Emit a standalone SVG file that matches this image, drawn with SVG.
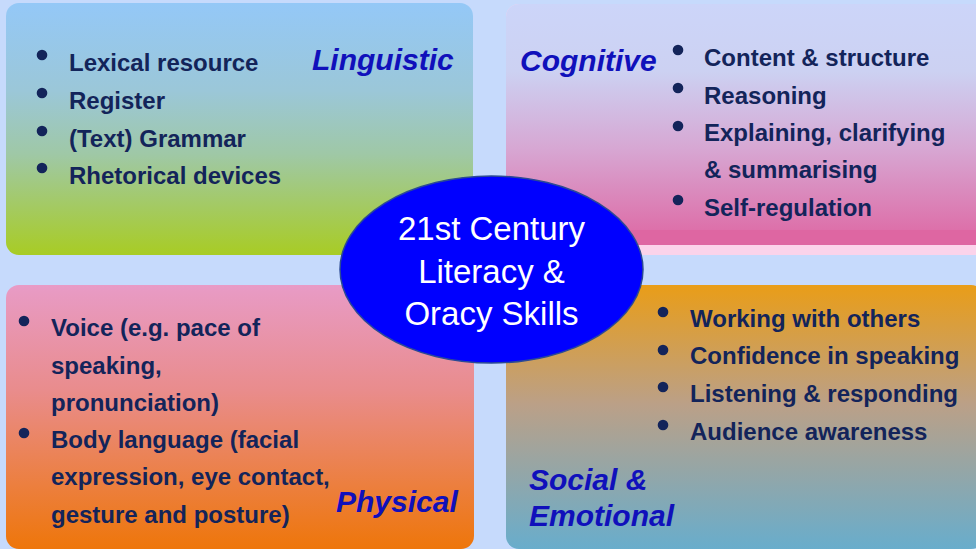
<svg xmlns="http://www.w3.org/2000/svg" width="976" height="549" viewBox="0 0 976 549">
<defs>
<linearGradient id="gTL" x1="0" y1="0" x2="0" y2="1">
<stop offset="0" stop-color="#94c8f7"/>
<stop offset="0.35" stop-color="#9bc7d8"/>
<stop offset="0.6" stop-color="#9fc8a6"/>
<stop offset="1" stop-color="#a8cc24"/>
</linearGradient>
<linearGradient id="gTR" x1="0" y1="0" x2="0" y2="1">
<stop offset="0" stop-color="#ccd5f9"/>
<stop offset="0.28" stop-color="#ccd1f2"/>
<stop offset="0.6" stop-color="#d7a7d3"/>
<stop offset="1" stop-color="#de66a2"/>
</linearGradient>
<linearGradient id="gBL" x1="0" y1="0" x2="0" y2="1">
<stop offset="0" stop-color="#e89bc6"/>
<stop offset="0.4" stop-color="#e98c8c"/>
<stop offset="1" stop-color="#ee760a"/>
</linearGradient>
<linearGradient id="gBR" x1="0" y1="0" x2="0" y2="1">
<stop offset="0" stop-color="#e99d18"/>
<stop offset="0.45" stop-color="#bba087"/>
<stop offset="1" stop-color="#68adcc"/>
</linearGradient>
</defs>
<style>
.item{font-family:"Liberation Sans",Arial,sans-serif;font-weight:bold;font-size:24px;fill:#13245a}
.cat{font-family:"Liberation Sans",Arial,sans-serif;font-weight:bold;font-style:italic;font-size:30px;fill:#1010bb}
.center{font-family:"Liberation Sans",Arial,sans-serif;font-size:33px;fill:#ffffff;text-anchor:middle}
.bul{fill:#13245a}
</style>
<rect width="976" height="549" fill="#c6dafc"/>

<g id="linguistic">
<rect x="6" y="3" width="467" height="252" rx="13" fill="url(#gTL)"/>
<text class="cat" x="312" y="70">Linguistic</text>
<g class="bul"><circle cx="42" cy="55" r="5.3"/><circle cx="42" cy="93" r="5.3"/><circle cx="42" cy="131" r="5.3"/><circle cx="42" cy="168" r="5.3"/></g>
<text class="item" x="69" y="71">Lexical resource</text>
<text class="item" x="69" y="108.5">Register</text>
<text class="item" x="69" y="146.5">(Text) Grammar</text>
<text class="item" x="69" y="184">Rhetorical devices</text>
</g>

<g id="cognitive">
<rect x="506" y="4" width="490" height="251" rx="13" fill="#fbd3ea"/>
<rect x="506" y="4" width="490" height="241" rx="13" fill="url(#gTR)"/>
<rect x="506" y="230" width="490" height="15" fill="#de66a2"/>
<text class="cat" x="520" y="71">Cognitive</text>
<g class="bul"><circle cx="678" cy="50" r="5.3"/><circle cx="678" cy="88" r="5.3"/><circle cx="678" cy="126" r="5.3"/><circle cx="678" cy="200" r="5.3"/></g>
<text class="item" x="704" y="66">Content &amp; structure</text>
<text class="item" x="704" y="103.5">Reasoning</text>
<text class="item" x="704" y="140.5">Explaining, clarifying</text>
<text class="item" x="704" y="178">&amp; summarising</text>
<text class="item" x="704" y="215.5">Self-regulation</text>
</g>

<g id="physical">
<rect x="6" y="285" width="468" height="264" rx="13" fill="url(#gBL)"/>
<g class="bul"><circle cx="24" cy="321" r="5.3"/><circle cx="24" cy="433" r="5.3"/></g>
<text class="item" x="51" y="336">Voice (e.g. pace of</text>
<text class="item" x="51" y="373.5">speaking,</text>
<text class="item" x="51" y="411">pronunciation)</text>
<text class="item" x="51" y="448">Body language (facial</text>
<text class="item" x="51" y="485">expression, eye contact,</text>
<text class="item" x="51" y="522.5">gesture and posture)</text>
<text class="cat" x="336" y="512">Physical</text>
</g>

<g id="social-emotional">
<rect x="506" y="285" width="478" height="264" rx="13" fill="url(#gBR)"/>
<g class="bul"><circle cx="663" cy="312" r="5.3"/><circle cx="663" cy="350" r="5.3"/><circle cx="663" cy="387" r="5.3"/><circle cx="663" cy="425" r="5.3"/></g>
<text class="item" x="690" y="327">Working with others</text>
<text class="item" x="690" y="364">Confidence in speaking</text>
<text class="item" x="690" y="402">Listening &amp; responding</text>
<text class="item" x="690" y="440">Audience awareness</text>
<text class="cat" x="529" y="489.5">Social &amp;</text>
<text class="cat" x="529" y="526">Emotional</text>
</g>

<g id="center">
<ellipse cx="491.5" cy="269.5" rx="151.5" ry="93.5" fill="#0000ff" stroke="#2b4a94" stroke-width="1.5"/>
<text class="center" x="491.5" y="239.5">21st Century</text>
<text class="center" x="491.5" y="282.5">Literacy &amp;</text>
<text class="center" x="491.5" y="324.5">Oracy Skills</text>
</g>

<g id="connectors"/>
</svg>
